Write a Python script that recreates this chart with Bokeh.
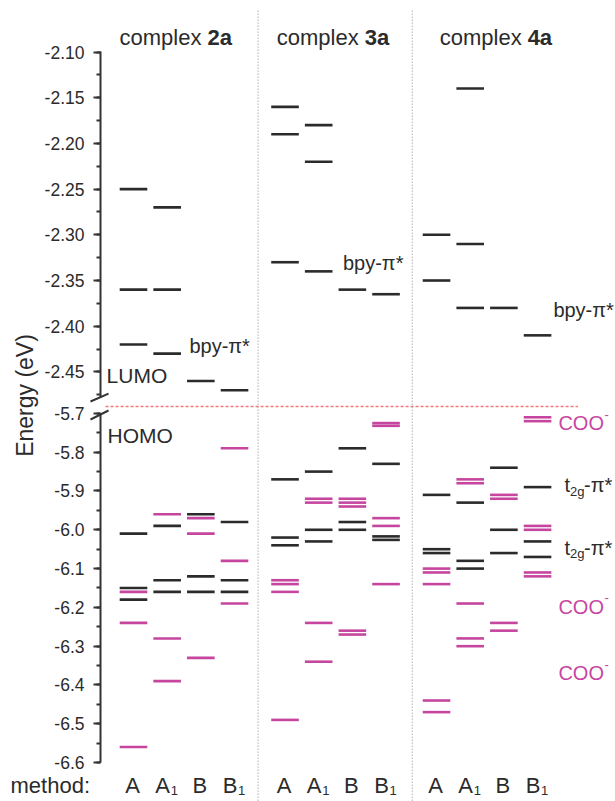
import numpy as np
from bokeh.plotting import figure
from bokeh.models import (ColumnDataSource, Range1d, SingleIntervalTicker,
                          PrintfTickFormatter, LinearAxis)
from bokeh.embed import file_html
from bokeh.resources import INLINE
from bokeh.core.properties import value

# ---------------- data ----------------
COMPLEXES = ["2a", "3a", "4a"]
METHODS = ["A", "A1", "B", "B1"]

# LUMO region (bpy-pi*), one list per method A, A1, B, B1
LUMO_2A = [[-2.25, -2.36, -2.42], [-2.27, -2.36, -2.43], [-2.46], [-2.47]]
LUMO_3A = [[-2.16, -2.19, -2.33], [-2.18, -2.22, -2.34], [-2.36], [-2.365]]
LUMO_4A = [[-2.30, -2.35], [-2.14, -2.31, -2.38], [-2.38], [-2.41]]

# HOMO region, t2g-pi* orbitals (black)
HOMO_T2G_2A = [[-6.01, -6.15, -6.18], [-5.99, -6.13, -6.16], [-5.96, -6.12, -6.16], [-5.98, -6.13, -6.16]]
HOMO_T2G_3A = [[-5.87, -6.02, -6.04], [-5.85, -6.00, -6.03], [-5.79, -5.98, -6.00], [-5.83, -6.017, -6.026]]
HOMO_T2G_4A = [[-5.91, -6.05, -6.06], [-5.93, -6.08, -6.10], [-5.84, -6.00, -6.06], [-5.89, -6.03, -6.07]]

# HOMO region, COO- orbitals (magenta)
HOMO_COO_2A = [[-6.16, -6.24, -6.56], [-5.96, -6.28, -6.39], [-5.97, -6.01, -6.33], [-5.79, -6.08, -6.19]]
HOMO_COO_3A = [[-6.13, -6.14, -6.16, -6.49], [-5.92, -5.93, -6.24, -6.34],
               [-5.92, -5.93, -5.94, -6.26, -6.27], [-5.725, -5.732, -5.97, -5.99, -6.14]]
HOMO_COO_4A = [[-6.10, -6.11, -6.14, -6.44, -6.47], [-5.87, -5.88, -6.19, -6.28, -6.30],
               [-5.91, -5.92, -6.24, -6.26], [-5.71, -5.72, -5.99, -6.00, -6.11, -6.12]]

# ---------------- style / layout ----------------
FONT = "Liberation Sans"
BLACK = "#2b2b2b"
MAGENTA = "#c6469f"
TXT = "#2b2b2b"
GROUP_OFFSET = [0.0, 4.5, 9.0]
HALF = 0.41
AXIS_X = -0.98          # x position (data units) of the energy axis
TEXT_DY = -7            # baseline correction for text glyphs (px)


def level_source(groups):
    x0, x1, y = [], [], []
    for g, per_method in enumerate(groups):
        for m, levels in enumerate(per_method):
            cx = GROUP_OFFSET[g] + m
            for e in levels:
                x0.append(cx - HALF)
                x1.append(cx + HALF)
                y.append(e)
    return ColumnDataSource(dict(x0=x0, x1=x1, y=y))


def style_axis(ax):
    ax.axis_line_width = 2
    ax.axis_line_color = "#333333"
    ax.major_tick_in = 0
    ax.major_tick_out = 7
    ax.minor_tick_in = 0
    ax.minor_tick_out = 4
    ax.major_tick_line_width = 2
    ax.minor_tick_line_width = 2
    ax.major_tick_line_color = "#333333"
    ax.minor_tick_line_color = "#333333"
    ax.major_label_text_font = FONT
    ax.major_label_text_font_size = "17.5px"
    ax.major_label_text_color = TXT
    ax.major_label_standoff = 9
    ax.fixed_location = AXIS_X


p = figure(width=615, height=801, x_range=Range1d(-3.950, 14.315),
           y_range=Range1d(-6.7003, -4.6358), output_backend="svg",
           toolbar_location=None, x_axis_location=None, y_axis_location=None,
           min_border=0, min_border_left=0, min_border_right=0,
           min_border_top=0, min_border_bottom=0)
p.extra_y_ranges = {"lumo": Range1d(-2.9200, -2.04365)}
p.outline_line_color = None
p.xgrid.visible = False
p.ygrid.visible = False

# energy axes (broken): LUMO part on the extra range, HOMO part on the main range
ax_up = LinearAxis(y_range_name="lumo",
                   ticker=SingleIntervalTicker(interval=0.05, num_minor_ticks=2),
                   formatter=PrintfTickFormatter(format="%.2f"),
                   bounds=(-2.478, -2.0999))
style_axis(ax_up)
p.add_layout(ax_up, "left")

ax_lo = LinearAxis(ticker=SingleIntervalTicker(interval=0.1, num_minor_ticks=2),
                   formatter=PrintfTickFormatter(format="%.1f"),
                   bounds=(-6.6005, -5.6995))
style_axis(ax_lo)
p.add_layout(ax_lo, "left")

# separators between complexes
p.segment(x0=[3.70, 8.28], y0=[-4.662, -4.662], x1=[3.70, 8.28], y1=[-6.70, -6.70],
          line_color="#8a8a8a", line_width=1, line_dash="1 2")

# red dashed break line
p.segment(x0=[-0.83], y0=[-5.6822], x1=[13.2], y1=[-5.6822],
          line_color="#f07a7a", line_width=1.5, line_dash="3 2")

# axis break marks
p.segment(x0=[-1.277], y0=[-2.4824], x1=[-0.742], y1=[-2.4737], y_range_name="lumo",
          line_color="#333333", line_width=2)
p.segment(x0=[-1.277], y0=[-5.7157], x1=[-0.742], y1=[-5.6925],
          line_color="#333333", line_width=2)

# energy levels
p.segment("x0", "y", "x1", "y", source=level_source([LUMO_2A, LUMO_3A, LUMO_4A]),
          y_range_name="lumo", line_color=BLACK, line_width=2.6)
p.segment("x0", "y", "x1", "y",
          source=level_source([HOMO_T2G_2A, HOMO_T2G_3A, HOMO_T2G_4A]),
          line_color=BLACK, line_width=2.6)
p.segment("x0", "y", "x1", "y",
          source=level_source([HOMO_COO_2A, HOMO_COO_3A, HOMO_COO_4A]),
          line_color=MAGENTA, line_width=2.6)


# ---------------- texts ----------------
def txt(x, y, s, size, color=TXT, align="left", style="normal", xo=0, yo=0,
        rng="default", angle=0.0):
    p.text(x=[x], y=[y], text=[s], text_font=value(FONT), text_font_size=size,
           text_color=color, text_align=align, text_baseline="alphabetic",
           text_font_style=style, x_offset=xo, y_offset=yo + TEXT_DY, angle=angle,
           y_range_name=rng)


TITLE_X = [1.23, 5.90, 10.74]
for tx, name in zip(TITLE_X, COMPLEXES):
    txt(tx, -2.0923, "complex", "22px", align="right", xo=26.5, rng="lumo")
    txt(tx, -2.0923, name, "22px", style="bold", xo=32.5, rng="lumo")

txt(-0.80, -2.4616, "LUMO", "21px", rng="lumo")
txt(1.66, -2.4288, "bpy-π*", "20px", rng="lumo")
txt(6.22, -2.338, "bpy-π*", "20px", rng="lumo")
txt(12.47, -2.390, "bpy-π*", "20px", rng="lumo")

txt(-0.77, -5.775, "HOMO", "21px")
for yy in (-5.744, -6.2165, -6.388):
    txt(12.62, yy, "COO", "20px", color=MAGENTA)
    txt(12.62, yy, "-", "13px", color=MAGENTA, xo=46, yo=-9)
for yy in (-5.903, -6.064):
    txt(12.80, yy, "t", "20px")
    txt(12.80, yy, "2g", "13px", xo=5.5, yo=6)
    txt(12.80, yy, "-π*", "20px", xo=19.5)

# method labels
METHOD_Y = -6.6763
txt(-3.653, METHOD_Y, "method:", "22px")
for g in range(3):
    for m, name in enumerate(METHODS):
        cx = GROUP_OFFSET[g] + m
        if len(name) == 1:
            txt(cx, METHOD_Y, name, "22px", align="center", xo=-1)
        else:
            txt(cx, METHOD_Y, name[0], "22px", align="center", xo=-4.5)
            txt(cx, METHOD_Y, name[1], "13px", xo=3.5, yo=5.5)

# y-axis title (rotated; the baseline correction acts along x here)
p.text(x=[-3.0], y=[-5.6539], text=["Energy (eV)"], text_font=value(FONT),
       text_font_size="23px", text_color=TXT, text_align="center",
       text_baseline="alphabetic", angle=np.pi / 2, x_offset=TEXT_DY)

open("out.html", "w").write(file_html(p, INLINE))
